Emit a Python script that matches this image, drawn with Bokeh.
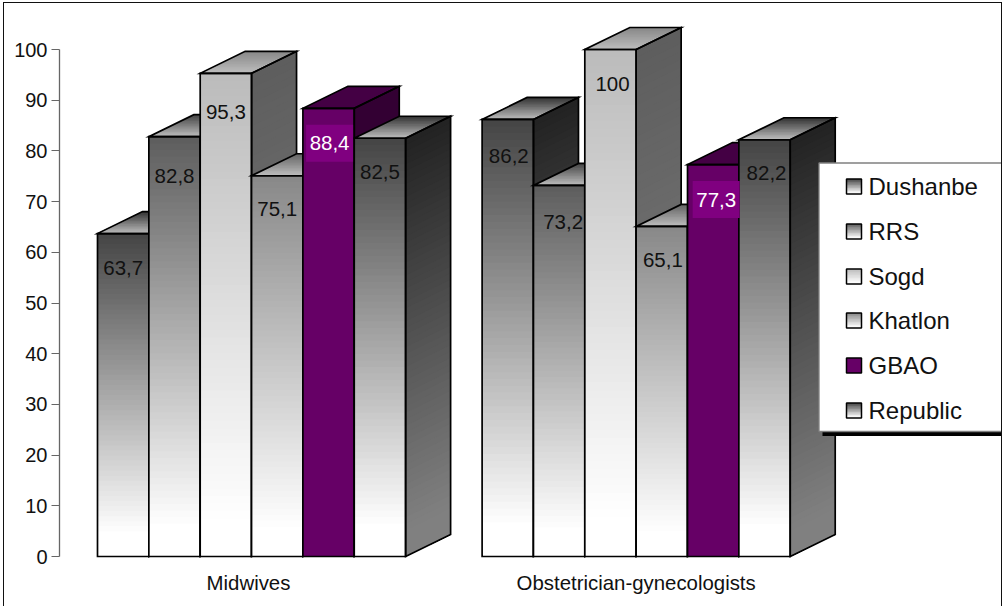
from bokeh.core.properties import value
from bokeh.embed import file_html
from bokeh.models import FixedTicker, InlineStyleSheet, Range1d
from bokeh.plotting import figure
from bokeh.resources import INLINE

# Coverage by region and staff group, in percent
categories = ["Midwives", "Obstetrician-gynecologists"]
regions = ["Dushanbe", "RRS", "Sogd", "Khatlon", "GBAO", "Republic"]
midwives = [63.7, 82.8, 95.3, 75.1, 88.4, 82.5]
obstetricians = [86.2, 73.2, 100, 65.1, 77.3, 82.2]
y_ticks = [0, 10, 20, 30, 40, 50, 60, 70, 80, 90, 100]

# Front-face colour at the top of each column (grey level), GBAO is flat purple
top_grey = [68, 93, 187, 136, None, 68]
PURPLE = (102, 0, 102)
LABEL_BG = "#800080"

FONT = "Liberation Sans"
W, H = 1002, 606
FRAME_L, FRAME_B = 59, 560         # plot frame edges on the page
PX_PER_VALUE = 5.07
PX_PER_SLOT = 51.35
ORIGIN_PX = 97                     # left edge of the first column
GROUP_STARTS = [0.0, 7.49]         # first slot of each group
DEPTH_X = 45 / PX_PER_SLOT
DEPTH_Y = 22 / PX_PER_VALUE
BANDS = 64

x_start = (FRAME_L - ORIGIN_PX) / PX_PER_SLOT
x_end = x_start + (W - FRAME_L) / PX_PER_SLOT
y_start = -(FRAME_B - 556) / PX_PER_VALUE
y_end = y_start + FRAME_B / PX_PER_VALUE


def px_x(px):
    return x_start + (px - FRAME_L) / PX_PER_SLOT


def px_y(py):
    return y_start + (FRAME_B - py) / PX_PER_VALUE


def hex_rgb(rgb):
    return "#%02x%02x%02x" % tuple(int(round(c)) for c in rgb)


# The page frame is open at the bottom, so it is drawn as a styled overlay on the host
page_frame = InlineStyleSheet(css="""
:host { position: relative; }
:host::after {
  content: ""; position: absolute; left: 2.5px; top: 2px; right: 0; bottom: 0;
  border: 1.5px solid #111; border-bottom: none; box-sizing: border-box;
  pointer-events: none; z-index: 50;
}
""")

p = figure(
    width=W, height=H, output_backend="svg", toolbar_location=None,
    x_range=Range1d(x_start, x_end), y_range=Range1d(y_start, y_end),
    min_border_left=FRAME_L, min_border_right=0, min_border_top=0,
    min_border_bottom=H - FRAME_B, outline_line_color=None,
    background_fill_color="white", border_fill_color="white",
    stylesheets=[page_frame],
)
p.grid.visible = False

ya = p.yaxis[0]
ya.ticker = FixedTicker(ticks=y_ticks)
ya.bounds = (0, 100)
ya.axis_line_color = "#666666"
ya.axis_line_width = 1.3
ya.major_tick_line_color = "#666666"
ya.major_tick_out = 8
ya.major_tick_in = 0
ya.minor_tick_line_color = None
ya.major_label_text_font = FONT
ya.major_label_text_font_size = "20px"
ya.major_label_text_color = "#111111"
ya.major_label_standoff = 4

# Group names sit on the lower axis, slightly left of the group's middle slot
group_label_slots = [2.94, 10.49]
xa = p.xaxis[0]
xa.ticker = FixedTicker(ticks=group_label_slots)
xa.major_label_overrides = dict(zip(group_label_slots, categories))
xa.axis_line_color = None
xa.major_tick_line_color = None
xa.major_tick_out = 0
xa.major_tick_in = 0
xa.minor_tick_line_color = None
xa.major_label_text_font = FONT
xa.major_label_text_font_size = "20.4px"
xa.major_label_text_color = "#111111"
xa.major_label_standoff = 11


def shade(base, frac, factor=1.0):
    """Grey or purple level at a height fraction of a column (1 = top)."""
    if base is None:
        return tuple(c * factor for c in PURPLE)
    t = min(max((frac - 0.07) / 0.93, 0), 1)
    g = (255 + (base - 255) * t) * factor
    return (g, g, g)


def draw_column(left, val, base):
    right = left + 1
    # Front and side faces: painted from the full face downwards so bands never leave seams
    n = 1 if base is None else BANDS
    for i in range(n):
        frac = 1 - i / n
        y1 = val * frac
        p.patch([left, right, right, left], [0, 0, y1, y1],
                fill_color=hex_rgb(shade(base, frac - 0.5 / n)), line_color=None)
        p.patch([right, right + DEPTH_X, right + DEPTH_X, right],
                [0, DEPTH_Y, y1 + DEPTH_Y, y1],
                fill_color=hex_rgb(shade(base, frac - 0.5 / n, 0.5)), line_color=None)
    # Top face: light at the front edge, darker toward the back
    m = 1 if base is None else 14
    for i in range(m):
        t = 1 - i / m
        if base is None:
            col = tuple(c * 0.67 for c in PURPLE)
        else:
            back = base * 0.72
            g = 190 + (back - 190) * (t - 0.5 / m)
            col = (g, g, g)
        p.patch(
            [left, right, right + DEPTH_X * t, left + DEPTH_X * t],
            [val, val, val + DEPTH_Y * t, val + DEPTH_Y * t],
            fill_color=hex_rgb(col), line_color=None,
        )
    # Edges
    outline = dict(fill_color=None, line_color="black", line_width=1.7, line_join="miter")
    p.patch([left, right, right, left], [0, 0, val, val], **outline)
    p.patch([right, right + DEPTH_X, right + DEPTH_X, right],
            [0, DEPTH_Y, val + DEPTH_Y, val], **outline)
    p.patch([left, right, right + DEPTH_X, left + DEPTH_X],
            [val, val, val + DEPTH_Y, val + DEPTH_Y], **outline)


series = [midwives, obstetricians]
for start, vals in zip(GROUP_STARTS, series):
    for k, (v, base) in enumerate(zip(vals, top_grey)):
        draw_column(start + k, v, base)

# Value labels, nudged in page pixels from each column's top centre
label_dx = [[0, 0, 0, 0, 1, 0], [1, 4, 2, 1, 3, 2]]
label_dy = [[34, 39, 39, 33, 35, 34], [37, 37, 34, 34, 35, 33]]
for start, vals, dxs, dys in zip(GROUP_STARTS, series, label_dx, label_dy):
    for k, (v, dx, dy) in enumerate(zip(vals, dxs, dys)):
        cx = start + k + 0.5 + dx / PX_PER_SLOT
        cy = v - dy / PX_PER_VALUE
        is_gbao = regions[k] == "GBAO"
        if is_gbao:
            p.quad(left=[cx - 23.5 / PX_PER_SLOT], right=[cx + 23.5 / PX_PER_SLOT],
                   bottom=[cy - 18.5 / PX_PER_VALUE], top=[cy + 18.5 / PX_PER_VALUE],
                   fill_color=LABEL_BG, line_color=None)
        p.text([cx], [cy], text=[str(v).replace(".", ",")],
               text_font=value(FONT), text_font_size="20.5px",
               text_color="white" if is_gbao else "#111111",
               text_align="center", text_baseline="middle")

# Legend panel with drop shadow
p.quad(left=[px_x(822)], right=[px_x(1002)], bottom=[px_y(435.5)], top=[px_y(425)],
       fill_color="black", line_color=None)
p.quad(left=[px_x(818.5)], right=[px_x(1003)], bottom=[px_y(431)], top=[px_y(162.5)],
       fill_color="white", line_color="#808080", line_width=1.3)

swatch_rows = [186, 231, 276, 320, 365, 410]
for name, base, row in zip(regions, top_grey, swatch_rows):
    l, r = px_x(846), px_x(861)
    steps = 1 if base is None else 10
    for i in range(steps):
        t = 1 - i / steps
        yb, yt = px_y(row + 7.5), px_y(row + 7.5 - 15 * t)
        p.quad(left=[l], right=[r], bottom=[yb], top=[yt],
               fill_color=hex_rgb(shade(base, t - 0.5 / steps)), line_color=None)
    p.quad(left=[l], right=[r], bottom=[px_y(row + 7.5)], top=[px_y(row - 7.5)],
           fill_color=None, line_color="black", line_width=1.5)
    p.text([px_x(868)], [px_y(row)], text=[name], text_font=value(FONT),
           text_font_size="24px", text_color="#111111",
           text_align="left", text_baseline="middle")

open("out.html", "w").write(file_html(p, INLINE))
